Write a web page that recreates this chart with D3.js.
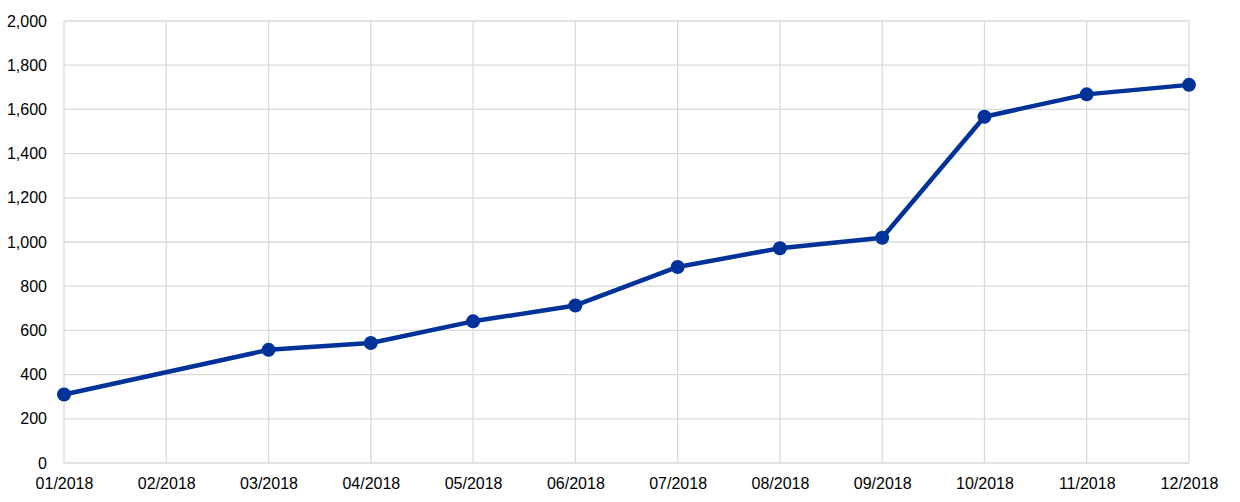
<!DOCTYPE html>
<html><head><meta charset="utf-8">
<script src="https://cdn.jsdelivr.net/npm/d3@7"></script>
<style>
html,body{margin:0;padding:0;background:#fff;}
text{font-family:"Liberation Sans",Arial,sans-serif;fill:#000;}
</style></head>
<body>
<svg id="chart" width="1240" height="502"></svg>
<script>
const categories = ["01/2018","02/2018","03/2018","04/2018","05/2018","06/2018","07/2018","08/2018","09/2018","10/2018","11/2018","12/2018"];
const values = [310, null, 512, 543, 641, 713, 887, 972, 1019, 1567, 1668, 1711];
const yTicks = [0,200,400,600,800,1000,1200,1400,1600,1800,2000];

const svg = d3.select("#chart");
const margin = {left:64, right:51, top:21, bottom:39};
const W = 1240, H = 502;
const x = d3.scalePoint().domain(categories).range([margin.left, W - margin.right]);
const y = d3.scaleLinear().domain([0,2000]).range([H - margin.bottom, margin.top]);

const grid = svg.append("g");
grid.selectAll("line.h").data(yTicks).join("line")
  .attr("x1", margin.left).attr("x2", W - margin.right)
  .attr("y1", d=>y(d)).attr("y2", d=>y(d))
  .attr("stroke","#d9d9d9").attr("stroke-width",1.3);
grid.selectAll("line.v").data(categories).join("line")
  .attr("x1", d=>x(d)).attr("x2", d=>x(d))
  .attr("y1", y(2000)).attr("y2", y(0))
  .attr("stroke","#d9d9d9").attr("stroke-width",1.3);

const yAxis = d3.axisLeft(y).tickValues(yTicks).tickSize(0).tickPadding(17)
  .tickFormat(d3.format(","));
svg.append("g").attr("transform",`translate(${margin.left},0)`).call(yAxis)
  .call(g=>g.select(".domain").remove())
  .selectAll("text").attr("font-size",16).attr("font-family","Liberation Sans, Arial, sans-serif");

const xAxis = d3.axisBottom(x).tickSize(0).tickPadding(14.5);
svg.append("g").attr("transform",`translate(0,${y(0)})`).call(xAxis)
  .call(g=>g.select(".domain").remove())
  .selectAll("text").attr("font-size",16).attr("font-family","Liberation Sans, Arial, sans-serif");

const pts = categories.map((c,i)=>({c, v:values[i]})).filter(d=>d.v!==null);
const line = d3.line().x(d=>x(d.c)).y(d=>y(d.v));
svg.append("path").datum(pts).attr("d", line)
  .attr("fill","none").attr("stroke","#003299").attr("stroke-width",4.5)
  .attr("stroke-linejoin","round");
svg.selectAll("circle.pt").data(pts).join("circle")
  .attr("cx", d=>x(d.c)).attr("cy", d=>y(d.v)).attr("r",7)
  .attr("fill","#003299");
</script>
</body></html>
